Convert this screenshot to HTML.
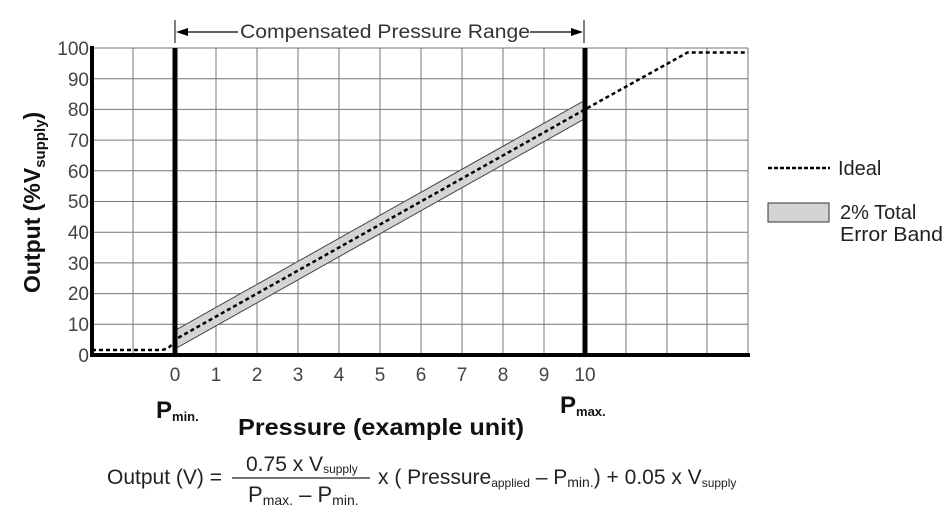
<!DOCTYPE html>
<html><head><meta charset="utf-8"><style>
html,body{margin:0;padding:0;background:#fff;}
svg{display:block;font-family:"Liberation Sans",sans-serif;}
</style></head><body>
<svg width="948" height="520" viewBox="0 0 948 520" xmlns="http://www.w3.org/2000/svg">
<g stroke="#777" stroke-width="1">
<line x1="133" y1="48" x2="133" y2="355"/>
<line x1="216" y1="48" x2="216" y2="355"/><line x1="257" y1="48" x2="257" y2="355"/><line x1="298" y1="48" x2="298" y2="355"/><line x1="339" y1="48" x2="339" y2="355"/><line x1="380" y1="48" x2="380" y2="355"/><line x1="421" y1="48" x2="421" y2="355"/><line x1="462" y1="48" x2="462" y2="355"/><line x1="503" y1="48" x2="503" y2="355"/><line x1="544" y1="48" x2="544" y2="355"/>
<line x1="626" y1="48" x2="626" y2="355"/><line x1="667" y1="48" x2="667" y2="355"/><line x1="707" y1="48" x2="707" y2="355"/><line x1="748" y1="48" x2="748" y2="355"/>
<line x1="92" y1="48" x2="748" y2="48"/><line x1="92" y1="78.7" x2="748" y2="78.7"/><line x1="92" y1="109.4" x2="748" y2="109.4"/><line x1="92" y1="140.1" x2="748" y2="140.1"/><line x1="92" y1="170.8" x2="748" y2="170.8"/><line x1="92" y1="201.5" x2="748" y2="201.5"/><line x1="92" y1="232.2" x2="748" y2="232.2"/><line x1="92" y1="262.9" x2="748" y2="262.9"/><line x1="92" y1="293.6" x2="748" y2="293.6"/><line x1="92" y1="324.3" x2="748" y2="324.3"/>
</g>
<polygon points="175,348.9 585,118.6 585,100.2 175,330.4" fill="#d4d4d4" stroke="#444" stroke-width="1"/>
<path d="M92,350 L160,350 Q170,350 175,339.6 L585,109.4 L687.5,52.5 L748,52.5" fill="none" stroke="#000" stroke-width="2.5" stroke-dasharray="4,3"/>
<line x1="92" y1="46" x2="92" y2="357" stroke="#000" stroke-width="4"/>
<line x1="90" y1="355" x2="750" y2="355" stroke="#000" stroke-width="4"/>
<line x1="175" y1="48" x2="175" y2="355" stroke="#000" stroke-width="5"/>
<line x1="585" y1="48" x2="585" y2="355" stroke="#000" stroke-width="5"/>
<line x1="175" y1="20" x2="175" y2="43" stroke="#000" stroke-width="1"/>
<line x1="584" y1="20" x2="584" y2="43" stroke="#000" stroke-width="1"/>
<line x1="180" y1="32" x2="238" y2="32" stroke="#000" stroke-width="1.2"/>
<line x1="530" y1="32" x2="578" y2="32" stroke="#000" stroke-width="1.2"/>
<polygon points="176,32 188,28 188,36" fill="#000"/>
<polygon points="583,32 571,28 571,36" fill="#000"/>
<text x="240" y="38" font-size="19" fill="#333" textLength="290" lengthAdjust="spacingAndGlyphs">Compensated Pressure Range</text>
<g font-size="19" fill="#444" text-anchor="end">
<text x="89" y="55">100</text><text x="89" y="86">90</text><text x="89" y="116">80</text><text x="89" y="147">70</text><text x="89" y="178">60</text><text x="89" y="208">50</text><text x="89" y="239">40</text><text x="89" y="270">30</text><text x="89" y="300">20</text><text x="89" y="331">10</text><text x="89" y="362">0</text>
</g>
<g font-size="19" fill="#444" text-anchor="middle">
<text x="175" y="381">0</text><text x="216" y="381">1</text><text x="257" y="381">2</text><text x="298" y="381">3</text><text x="339" y="381">4</text><text x="380" y="381">5</text><text x="421" y="381">6</text><text x="462" y="381">7</text><text x="503" y="381">8</text><text x="544" y="381">9</text><text x="585" y="381">10</text>
</g>
<text transform="translate(40,293) rotate(-90)" font-size="23" font-weight="bold" fill="#111">Output (%V<tspan font-size="15" dy="5">supply</tspan><tspan dy="-5">)</tspan></text>
<text x="156" y="418" font-size="24" font-weight="bold" fill="#111">P<tspan font-size="13" dy="3">min.</tspan></text>
<text x="560" y="413" font-size="24" font-weight="bold" fill="#111">P<tspan font-size="13" dy="3">max.</tspan></text>
<text x="238" y="435" font-size="23" font-weight="bold" fill="#111" textLength="286" lengthAdjust="spacingAndGlyphs">Pressure (example unit)</text>
<line x1="768" y1="168" x2="830" y2="168" stroke="#000" stroke-width="2.5" stroke-dasharray="4,2"/>
<text x="838" y="175" font-size="20" fill="#222">Ideal</text>
<rect x="768" y="203" width="61" height="19" fill="#d4d4d4" stroke="#333" stroke-width="1"/>
<text x="840" y="219" font-size="20" fill="#222">2% Total</text>
<text x="840" y="241" font-size="20" fill="#222" textLength="103" lengthAdjust="spacingAndGlyphs">Error Band</text>
<g font-size="21" fill="#222">
<text x="107" y="484" textLength="115" lengthAdjust="spacingAndGlyphs">Output (V) =</text>
<text x="246" y="471">0.75 x V<tspan font-size="12" dy="2">supply</tspan></text>
<line x1="232" y1="478" x2="370" y2="478" stroke="#222" stroke-width="1.2"/>
<text x="248" y="502" font-size="22">P<tspan font-size="14" dy="3">max.</tspan><tspan dy="-3"> – P</tspan><tspan font-size="14" dy="3">min.</tspan></text>
<text x="378" y="484">x ( Pressure<tspan font-size="12" dy="3">applied</tspan><tspan dy="-3"> – P</tspan><tspan font-size="14" dy="3">min.</tspan><tspan dy="-3">) + 0.05 x V</tspan><tspan font-size="12" dy="3">supply</tspan></text>
</g>
</svg>
</body></html>
